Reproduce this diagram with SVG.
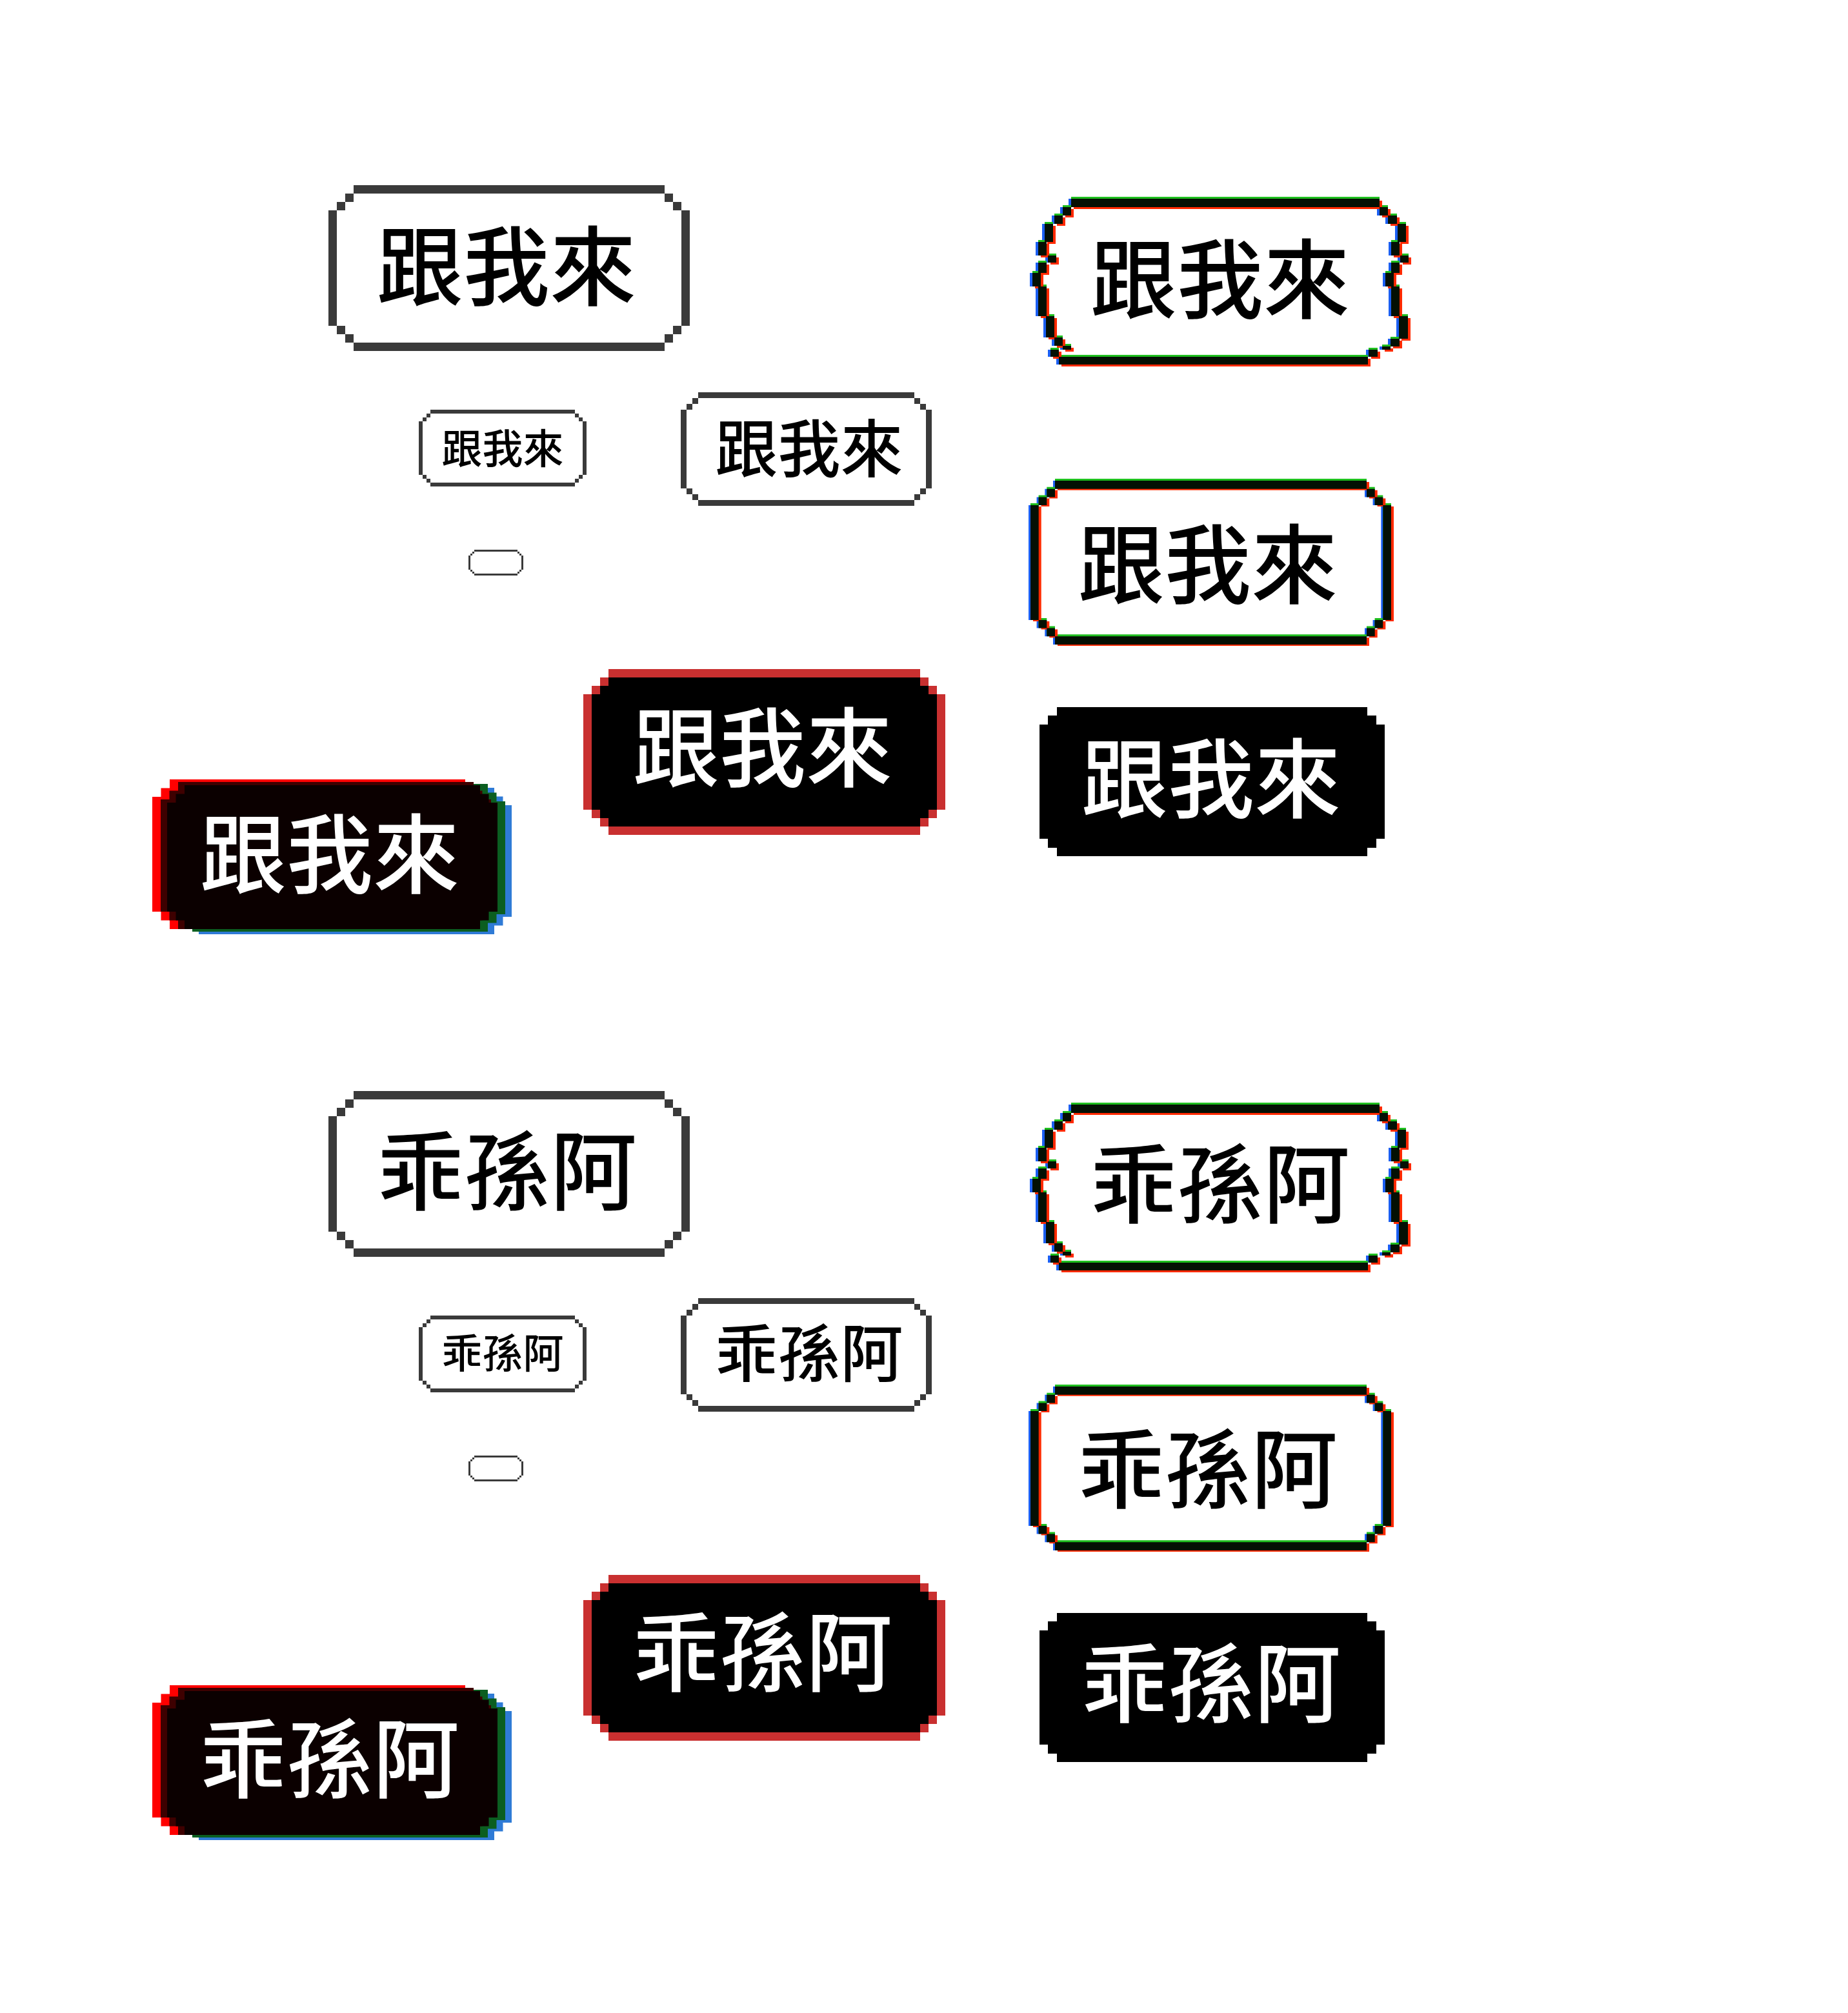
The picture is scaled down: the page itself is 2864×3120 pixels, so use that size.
<svg xmlns="http://www.w3.org/2000/svg" width="2864" height="3120" viewBox="0 0 2864 3120">
<style>
.t{font-family:"Noto Sans CJK TC","Noto Sans CJK SC",sans-serif;font-weight:500;text-anchor:middle;fill:#000}
.w{fill:#fff}
.ol{fill:#3a3a3a}
.rb{fill:#c93030}
.bk{fill:#000}
</style>
<defs>
<path id="oA" d="M548 287h482v13h-482z M548 531h482v13h-482z M509 326h13v179h-13z M1056 326h13v179h-13z M535 300h13v13h-13z M522 313h13v13h-13z M1030 300h13v13h-13z M1043 313h13v13h-13z M535 518h13v13h-13z M522 505h13v13h-13z M1030 518h13v13h-13z M1043 505h13v13h-13z"/>
<path id="oC" d="M667 635h224v6h-224z M667 748h224v6h-224z M649 653h6v83h-6z M903 653h6v83h-6z M661 641h6v6h-6z M655 647h6v6h-6z M891 641h6v6h-6z M897 647h6v6h-6z M661 742h6v6h-6z M655 736h6v6h-6z M891 742h6v6h-6z M897 736h6v6h-6z"/>
<path id="oD" d="M1082 608h335v9h-335z M1082 775h335v9h-335z M1055 635h9v122h-9z M1435 635h9v122h-9z M1073 617h9v9h-9z M1064 626h9v9h-9z M1417 617h9v9h-9z M1426 626h9v9h-9z M1073 766h9v9h-9z M1064 757h9v9h-9z M1417 766h9v9h-9z M1426 757h9v9h-9z"/>
<path id="oE" d="M735 852h67v3h-67z M735 889h67v3h-67z M726 861h3v22h-3z M808 861h3v22h-3z M732 855h3v3h-3z M729 858h3v3h-3z M802 855h3v3h-3z M805 858h3v3h-3z M732 886h3v3h-3z M729 883h3v3h-3z M802 886h3v3h-3z M805 883h3v3h-3z"/>
<path id="oG" d="M943 1037h483v13h-483z M943 1281h483v13h-483z M904 1076h13v179h-13z M1452 1076h13v179h-13z M930 1050h13v13h-13z M917 1063h13v13h-13z M1426 1050h13v13h-13z M1439 1063h13v13h-13z M930 1268h13v13h-13z M917 1255h13v13h-13z M1426 1268h13v13h-13z M1439 1255h13v13h-13z"/>
<path id="fG" d="M943 1037H1426V1050H1439V1063H1452V1076H1465V1255H1452V1268H1439V1281H1426V1294H943V1281H930V1268H917V1255H904V1076H917V1063H930V1050H943Z"/>
<path id="fH" d="M1638 1096H2119V1109H2133V1123H2146V1300H2133V1314H2119V1327H1638V1314H1624V1300H1611V1123H1624V1109H1638Z"/>
<path id="gF" d="M1635 745h483v12.7h-483z M1635 986.3h483v12.7h-483z M1597 783.1h12.7v177.8h-12.7z M2143.3 783.1h12.7v177.8h-12.7z M1622.3 757.7h12.7v12.7h-12.7z M1609.6 770.4h12.7v12.7h-12.7z M2118 757.7h12.7v12.7h-12.7z M2130.6 770.4h12.7v12.7h-12.7z M1622.3 973.6h12.7v12.7h-12.7z M1609.6 960.9h12.7v12.7h-12.7z M2118 973.6h12.7v12.7h-12.7z M2130.6 960.9h12.7v12.7h-12.7z"/>
<path id="gB" d="M1660 308h478v13h-478z M1647 321h13v13h-13z M1634 334h13v13h-13z M2138 321h13v13h-13z M2151 334h14v13h-14z M1619 347h13v28h-13z M1609 375h13v21h-13z M1624 396h13v11h-13z M1609 407h13v16h-13z M1600 423h13v21h-13z M1609 444h13v46h-13z M1621 490h13v33h-13z M2166 347h13v28h-13z M2156 375h13v21h-13z M2170 396h13v11h-13z M2156 407h13v16h-13z M2147 423h13v21h-13z M2156 444h13v46h-13z M2168 490h14v35h-14z M1634 523h13v13h-13z M1647 536h13v6h-13z M1628 542h13v11h-13z M1641 553h479v12h-479z M2155 525h14v12h-14z M2142 537h13v5h-13z M2121 542h14v11h-14z"/>
<g id="sB">
<use href="#gB" fill="#1b5ff2" x="-4"/>
<use href="#gB" fill="#1fbf1f" y="-3"/>
<use href="#gB" fill="#ff2a00" x="4" y="3"/>
<use href="#gB" fill="#041004"/>
</g>
<g id="sF">
<use href="#gF" fill="#1b5ff2" x="-3"/>
<use href="#gF" fill="#1fbf1f" y="-3"/>
<use href="#gF" fill="#ff2a00" x="4" y="2"/>
<use href="#gF" fill="#041004"/>
</g>
<g id="sG"><use href="#fG" class="bk"/><use href="#oG" class="rb"/></g>
<g id="sI">
<path fill="#2f7bd6" d="M308 1221H766V1234.5H779.5V1248H793V1421H779.5V1434.5H766V1448H308V1434.5H294.5V1421H281V1248H294.5V1234.5H308Z"/>
<path fill="#0b5e20" d="M298 1215H756V1228.5H769.5V1242H783V1417H769.5V1430.5H756V1444H298V1430.5H284.5V1417H271V1242H284.5V1228.5H298Z"/>
<path fill="#ff0000" d="M263 1208H721V1221.5H734.5V1235H748V1413H734.5V1426.5H721V1440H263V1426.5H249.5V1413H236V1235H249.5V1221.5H263Z"/>
<path fill="#3e0000" d="M276 1212H734V1225.5H747.5V1239H761V1413H747.5V1426.5H734V1440H276V1426.5H262.5V1413H249V1239H262.5V1225.5H276Z"/>
<path fill="#0b0000" d="M286 1217H744V1230.5H757.5V1244H771V1413H757.5V1426.5H744V1440H286V1426.5H272.5V1413H259V1244H272.5V1230.5H286Z"/>
</g>
</defs>
<rect width="2864" height="3120" fill="#fff"/>
<g id="set-1">
<g id="n1-large"><use href="#oA" class="ol"/><text class="t" x="785" y="463" font-size="134">跟我來</text></g>
<g id="n1-glitch"><use href="#sB"/><text class="t" x="1891" y="483" font-size="134">跟我來</text></g>
<g id="n1-small"><use href="#oC" class="ol"/><text class="t" x="779" y="718" font-size="63">跟我來</text></g>
<g id="n1-medium"><use href="#oD" class="ol"/><text class="t" x="1254" y="731" font-size="97">跟我來</text></g>
<g id="n1-tiny"><use href="#oE" class="ol"/></g>
<g id="n1-glitch-2"><use href="#sF"/><text class="t" x="1872" y="925" font-size="134">跟我來</text></g>
<g id="n1-red"><use href="#sG"/><text class="t w" x="1182" y="1209" font-size="134">跟我來</text></g>
<g id="n1-dark"><use href="#fH" class="bk"/><text class="t w" x="1877" y="1257" font-size="134">跟我來</text></g>
<g id="n1-rgb"><use href="#sI"/><text class="t w" x="511" y="1374" font-size="134">跟我來</text></g>
</g>
<g id="set-2">
<g id="n2-large"><use href="#oA" class="ol" y="1404"/><text class="t" x="786" y="1865" font-size="134">乖孫阿</text></g>
<g id="n2-glitch"><use href="#sB" y="1404"/><text class="t" x="1891" y="1885" font-size="134">乖孫阿</text></g>
<g id="n2-small"><use href="#oC" class="ol" y="1404"/><text class="t" x="779" y="2120" font-size="63">乖孫阿</text></g>
<g id="n2-medium"><use href="#oD" class="ol" y="1404"/><text class="t" x="1254" y="2133" font-size="97">乖孫阿</text></g>
<g id="n2-tiny"><use href="#oE" class="ol" y="1404"/></g>
<g id="n2-glitch-2"><use href="#sF" y="1404"/><text class="t" x="1872" y="2327" font-size="134">乖孫阿</text></g>
<g id="n2-red"><use href="#sG" y="1404"/><text class="t w" x="1182" y="2611" font-size="134">乖孫阿</text></g>
<g id="n2-dark"><use href="#fH" class="bk" y="1404"/><text class="t w" x="1877" y="2659" font-size="134">乖孫阿</text></g>
<g id="n2-rgb"><use href="#sI" y="1404"/><text class="t w" x="511" y="2776" font-size="134">乖孫阿</text></g>
</g>
</svg>
